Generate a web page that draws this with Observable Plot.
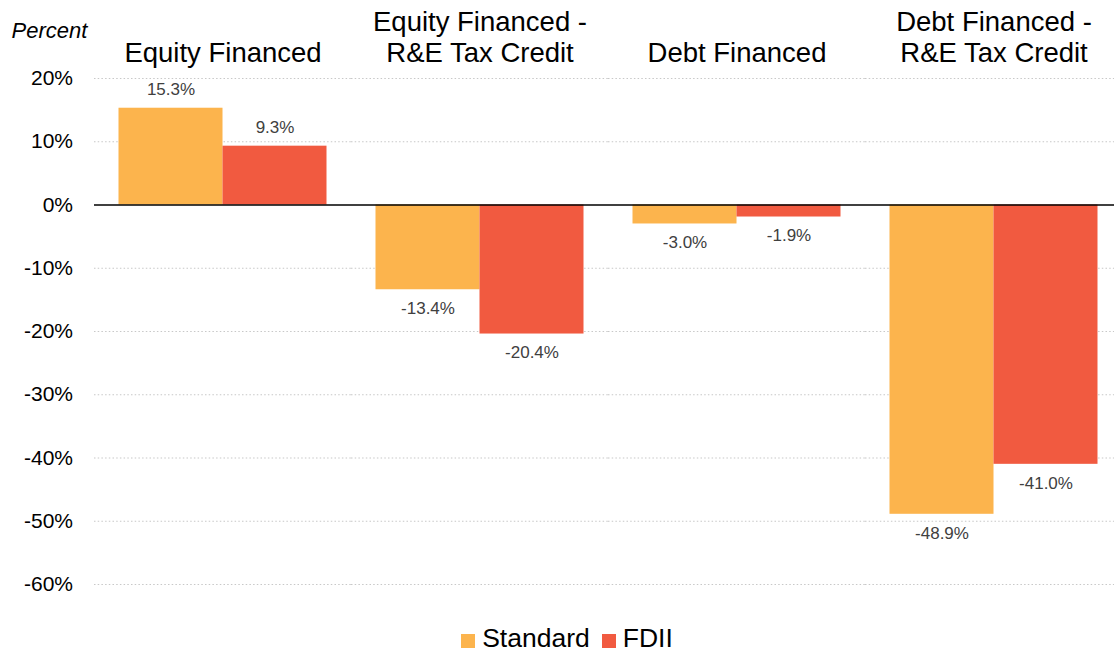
<!DOCTYPE html>
<html>
<head>
<meta charset="utf-8">
<script src="https://cdn.jsdelivr.net/npm/d3@7"></script>
<script src="https://cdn.jsdelivr.net/npm/@observablehq/plot@0.6"></script>
<style>
  html, body { margin: 0; padding: 0; background: #fff; overflow: hidden; }
  #chart svg { overflow: hidden; max-width: none !important; }
  #legend { display: flex; justify-content: center; align-items: center; height: 53px; padding-top: 22px;
    font-family: "Liberation Sans", Arial, sans-serif; font-size: 26.5px; color: #000; padding-left: 20px; box-sizing: border-box; width: 1114px; line-height: 30px; }
  .item { display: flex; align-items: center; margin: 0 6px; }
  .sw { width: 14px; height: 14px; margin-right: 7px; margin-top: 6px; }
</style>
</head>
<body>
<div id="chart"></div>
<div id="legend"></div>
<script>
const groups = ["Equity Financed", "Equity Financed - R&E Tax Credit", "Debt Financed", "Debt Financed - R&E Tax Credit"];
const groupLabels = ["Equity Financed", "Equity Financed -\nR&E Tax Credit", "Debt Financed", "Debt Financed -\nR&E Tax Credit"];
const series = ["Standard", "FDII"];
const standardValues = [15.3, -13.4, -3.0, -48.9];
const fdiiValues = [9.3, -20.4, -1.9, -41.0];
const colors = ["#FCB44D", "#F15A40"];
const yTicks = [20, 10, 0, -10, -20, -30, -40, -50, -60];
const gridTicks = [20, 10, -10, -20, -30, -40, -50, -60];

const data = [];
groups.forEach((g, i) => {
  data.push({group: g, series: "Standard", value: standardValues[i]});
  data.push({group: g, series: "FDII", value: fdiiValues[i]});
});
const labelOf = new Map(groups.map((g, i) => [g, groupLabels[i]]));
const font = "Liberation Sans, Arial, sans-serif";
const fmt = d => d.toFixed(1) + "%";

const chart = Plot.plot({
  width: 1114,
  height: 600,
  marginTop: 78,
  marginBottom: 16,
  marginLeft: 93.5,
  marginRight: -7.5,
  style: {fontFamily: font, background: "#fff", overflow: "hidden"},
  fx: {domain: groups, padding: 0, label: null},
  x: {domain: series, paddingInner: 0, paddingOuter: 0.225, axis: null},
  y: {domain: [-60, 20], label: null},
  color: {domain: series, range: colors},
  marks: [
    Plot.gridY({ticks: gridTicks, stroke: "#c8c8c8", strokeOpacity: 1, strokeWidth: 1.2, strokeDasharray: "1.5,2.2"}),
    Plot.barY(data, {fx: "group", x: "series", y: "value", fill: "series"}),
    Plot.ruleY([0], {stroke: "#000", strokeWidth: 1.5}),
    Plot.text(data.filter(d => d.value >= 0), {fx: "group", x: "series", y: "value", text: d => fmt(d.value), dy: -19, fontSize: 17, fill: "#404040", lineAnchor: "middle"}),
    Plot.text(data.filter(d => d.value < 0), {fx: "group", x: "series", y: "value", text: d => fmt(d.value), dy: 19, fontSize: 17, fill: "#404040", lineAnchor: "middle"}),
    Plot.text(["Percent"], {fx: [groups[0]], text: d => d, frameAnchor: "top-left", dx: -83, dy: -48, textAnchor: "start", lineAnchor: "middle", fontSize: 22, fontStyle: "italic", fill: "#000"}),
    Plot.axisY({ticks: yTicks, tickSize: 0, tickPadding: 21.5, fontSize: 21, tickFormat: d => d + "%", label: null, fill: "#000"}),
    Plot.axisFx({anchor: "top", tickSize: 0, tickPadding: 17, fontSize: 27.5, lineHeight: 1.1, tickFormat: g => labelOf.get(g), label: null, fill: "#000"})
  ]
});
document.getElementById("chart").appendChild(chart);

const legend = document.getElementById("legend");
series.forEach((s, i) => {
  const item = document.createElement("div");
  item.className = "item";
  const sw = document.createElement("span");
  sw.className = "sw";
  sw.style.background = colors[i];
  const tx = document.createElement("span");
  tx.textContent = s;
  item.appendChild(sw);
  item.appendChild(tx);
  legend.appendChild(item);
});
</script>
</body>
</html>
